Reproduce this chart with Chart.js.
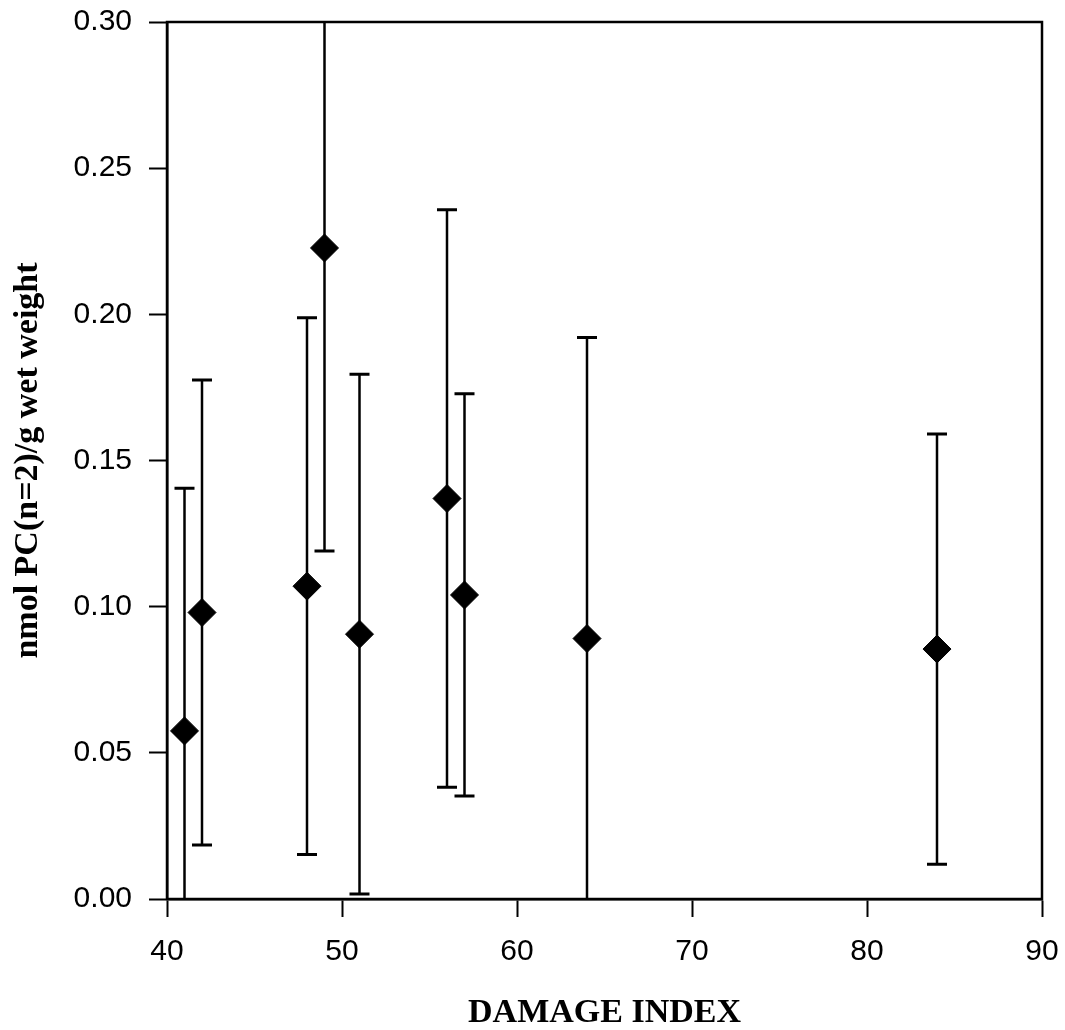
<!DOCTYPE html>
<html>
<head>
<meta charset="utf-8">
<title>nmol PC(n=2)/g wet weight</title>
<script src="https://cdn.jsdelivr.net/npm/chart.js@4/dist/chart.umd.min.js"></script>
<style>
    html, body { margin: 0; padding: 0; background: #fff; }
    canvas { display: block; }
</style>
</head>
<body>
<canvas id="DamageChart" width="1065" height="1030"></canvas>
<script>
// Damage index per sample, mean value and +/- error
var damageIndex = [41, 42, 48, 49, 51, 56, 57, 64, 84];
var pcMean = [0.0575, 0.098, 0.107, 0.2227, 0.0906, 0.137, 0.104, 0.0891, 0.0855];
var pcError = [0.083, 0.0795, 0.0918, 0.1037, 0.0889, 0.0988, 0.0688, 0.103, 0.0736];

var xTicks = [40, 50, 60, 70, 80, 90];
var yTicks = [0.00, 0.05, 0.10, 0.15, 0.20, 0.25, 0.30];

var ink = '#000';

// error bars with caps, clipped to the plot box
var errorBarPlugin = {
    id: 'errorBars',
    beforeDatasetsDraw: function (chart) {
        var ctx = chart.ctx;
        var area = chart.chartArea;
        var xs = chart.scales.x;
        var ys = chart.scales.y;
        ctx.save();
        ctx.beginPath();
        ctx.rect(area.left, area.top, area.right - area.left, area.bottom - area.top);
        ctx.clip();
        ctx.strokeStyle = ink;
        for (var i = 0; i < damageIndex.length; ++i) {
            var px = xs.getPixelForValue(damageIndex[i]);
            var top = ys.getPixelForValue(pcMean[i] + pcError[i]);
            var bottom = ys.getPixelForValue(pcMean[i] - pcError[i]);
            ctx.lineWidth = 2.5;
            ctx.beginPath();
            ctx.moveTo(px, top);
            ctx.lineTo(px, bottom);
            ctx.stroke();
            ctx.lineWidth = 3;
            ctx.beginPath();
            ctx.moveTo(px - 10, top);
            ctx.lineTo(px + 10, top);
            ctx.moveTo(px - 10, bottom);
            ctx.lineTo(px + 10, bottom);
            ctx.stroke();
        }
        ctx.restore();
    }
};

// closed frame round the plot area
var framePlugin = {
    id: 'frame',
    afterDraw: function (chart) {
        var ctx = chart.ctx;
        var area = chart.chartArea;
        ctx.save();
        ctx.strokeStyle = ink;
        ctx.lineWidth = 2.5;
        ctx.strokeRect(area.left, area.top, area.right - area.left, area.bottom - area.top);
        ctx.restore();
    }
};

var points = [];
for (var i = 0; i < damageIndex.length; ++i) {
    points.push({ x: damageIndex[i], y: pcMean[i] });
}

const config = {
    type: 'scatter',
    data: {
        datasets: [{
            data: points,
            pointStyle: 'rectRot',
            pointRadius: 14,
            pointHoverRadius: 14,
            backgroundColor: ink,
            borderColor: ink,
            borderWidth: 1
        }]
    },
    options: {
        responsive: false,
        animation: false,
        layout: {
            padding: { top: 22, right: 23, left: 0, bottom: 0 }
        },
        plugins: {
            legend: { display: false },
            tooltip: { enabled: false }
        },
        scales: {
            x: {
                type: 'linear',
                min: xTicks[0],
                max: xTicks[xTicks.length - 1],
                afterBuildTicks: function (scale) {
                    scale.ticks = xTicks.map(function (v) { return { value: v }; });
                },
                afterFit: function (scale) {
                    scale.height = 131;
                    scale.paddingLeft = 0;
                    scale.paddingRight = 0;
                },
                grid: {
                    drawOnChartArea: false,
                    tickLength: 18,
                    tickWidth: 2,
                    tickColor: ink
                },
                border: { color: ink, width: 2.5 },
                ticks: {
                    color: ink,
                    padding: 17,
                    maxRotation: 0,
                    font: { family: 'Liberation Sans', size: 30 }
                },
                title: {
                    display: true,
                    text: 'DAMAGE INDEX',
                    color: ink,
                    padding: { top: 0, bottom: 0 },
                    font: { family: 'Liberation Serif', size: 34, weight: 'bold', lineHeight: 1 }
                }
            },
            y: {
                type: 'linear',
                min: yTicks[0],
                max: yTicks[yTicks.length - 1],
                afterBuildTicks: function (scale) {
                    scale.ticks = yTicks.map(function (v) { return { value: v }; });
                },
                afterFit: function (scale) {
                    scale.width = 167;
                    scale.paddingTop = 0;
                    scale.paddingBottom = 0;
                },
                grid: {
                    drawOnChartArea: false,
                    tickLength: 18,
                    tickWidth: 2,
                    tickColor: ink
                },
                border: { color: ink, width: 2.5 },
                ticks: {
                    color: ink,
                    padding: 17,
                    font: { family: 'Liberation Sans', size: 30 },
                    callback: function (value) {
                        return value.toFixed(2);
                    }
                },
                title: {
                    display: true,
                    text: 'nmol PC(n=2)/g wet weight',
                    color: ink,
                    padding: { top: 11, bottom: 0 },
                    font: { family: 'Liberation Serif', size: 34, weight: 'bold', lineHeight: 1 }
                }
            }
        }
    },
    plugins: [errorBarPlugin, framePlugin]
};

var myChart = new Chart(document.getElementById('DamageChart'), config);
</script>
</body>
</html>
